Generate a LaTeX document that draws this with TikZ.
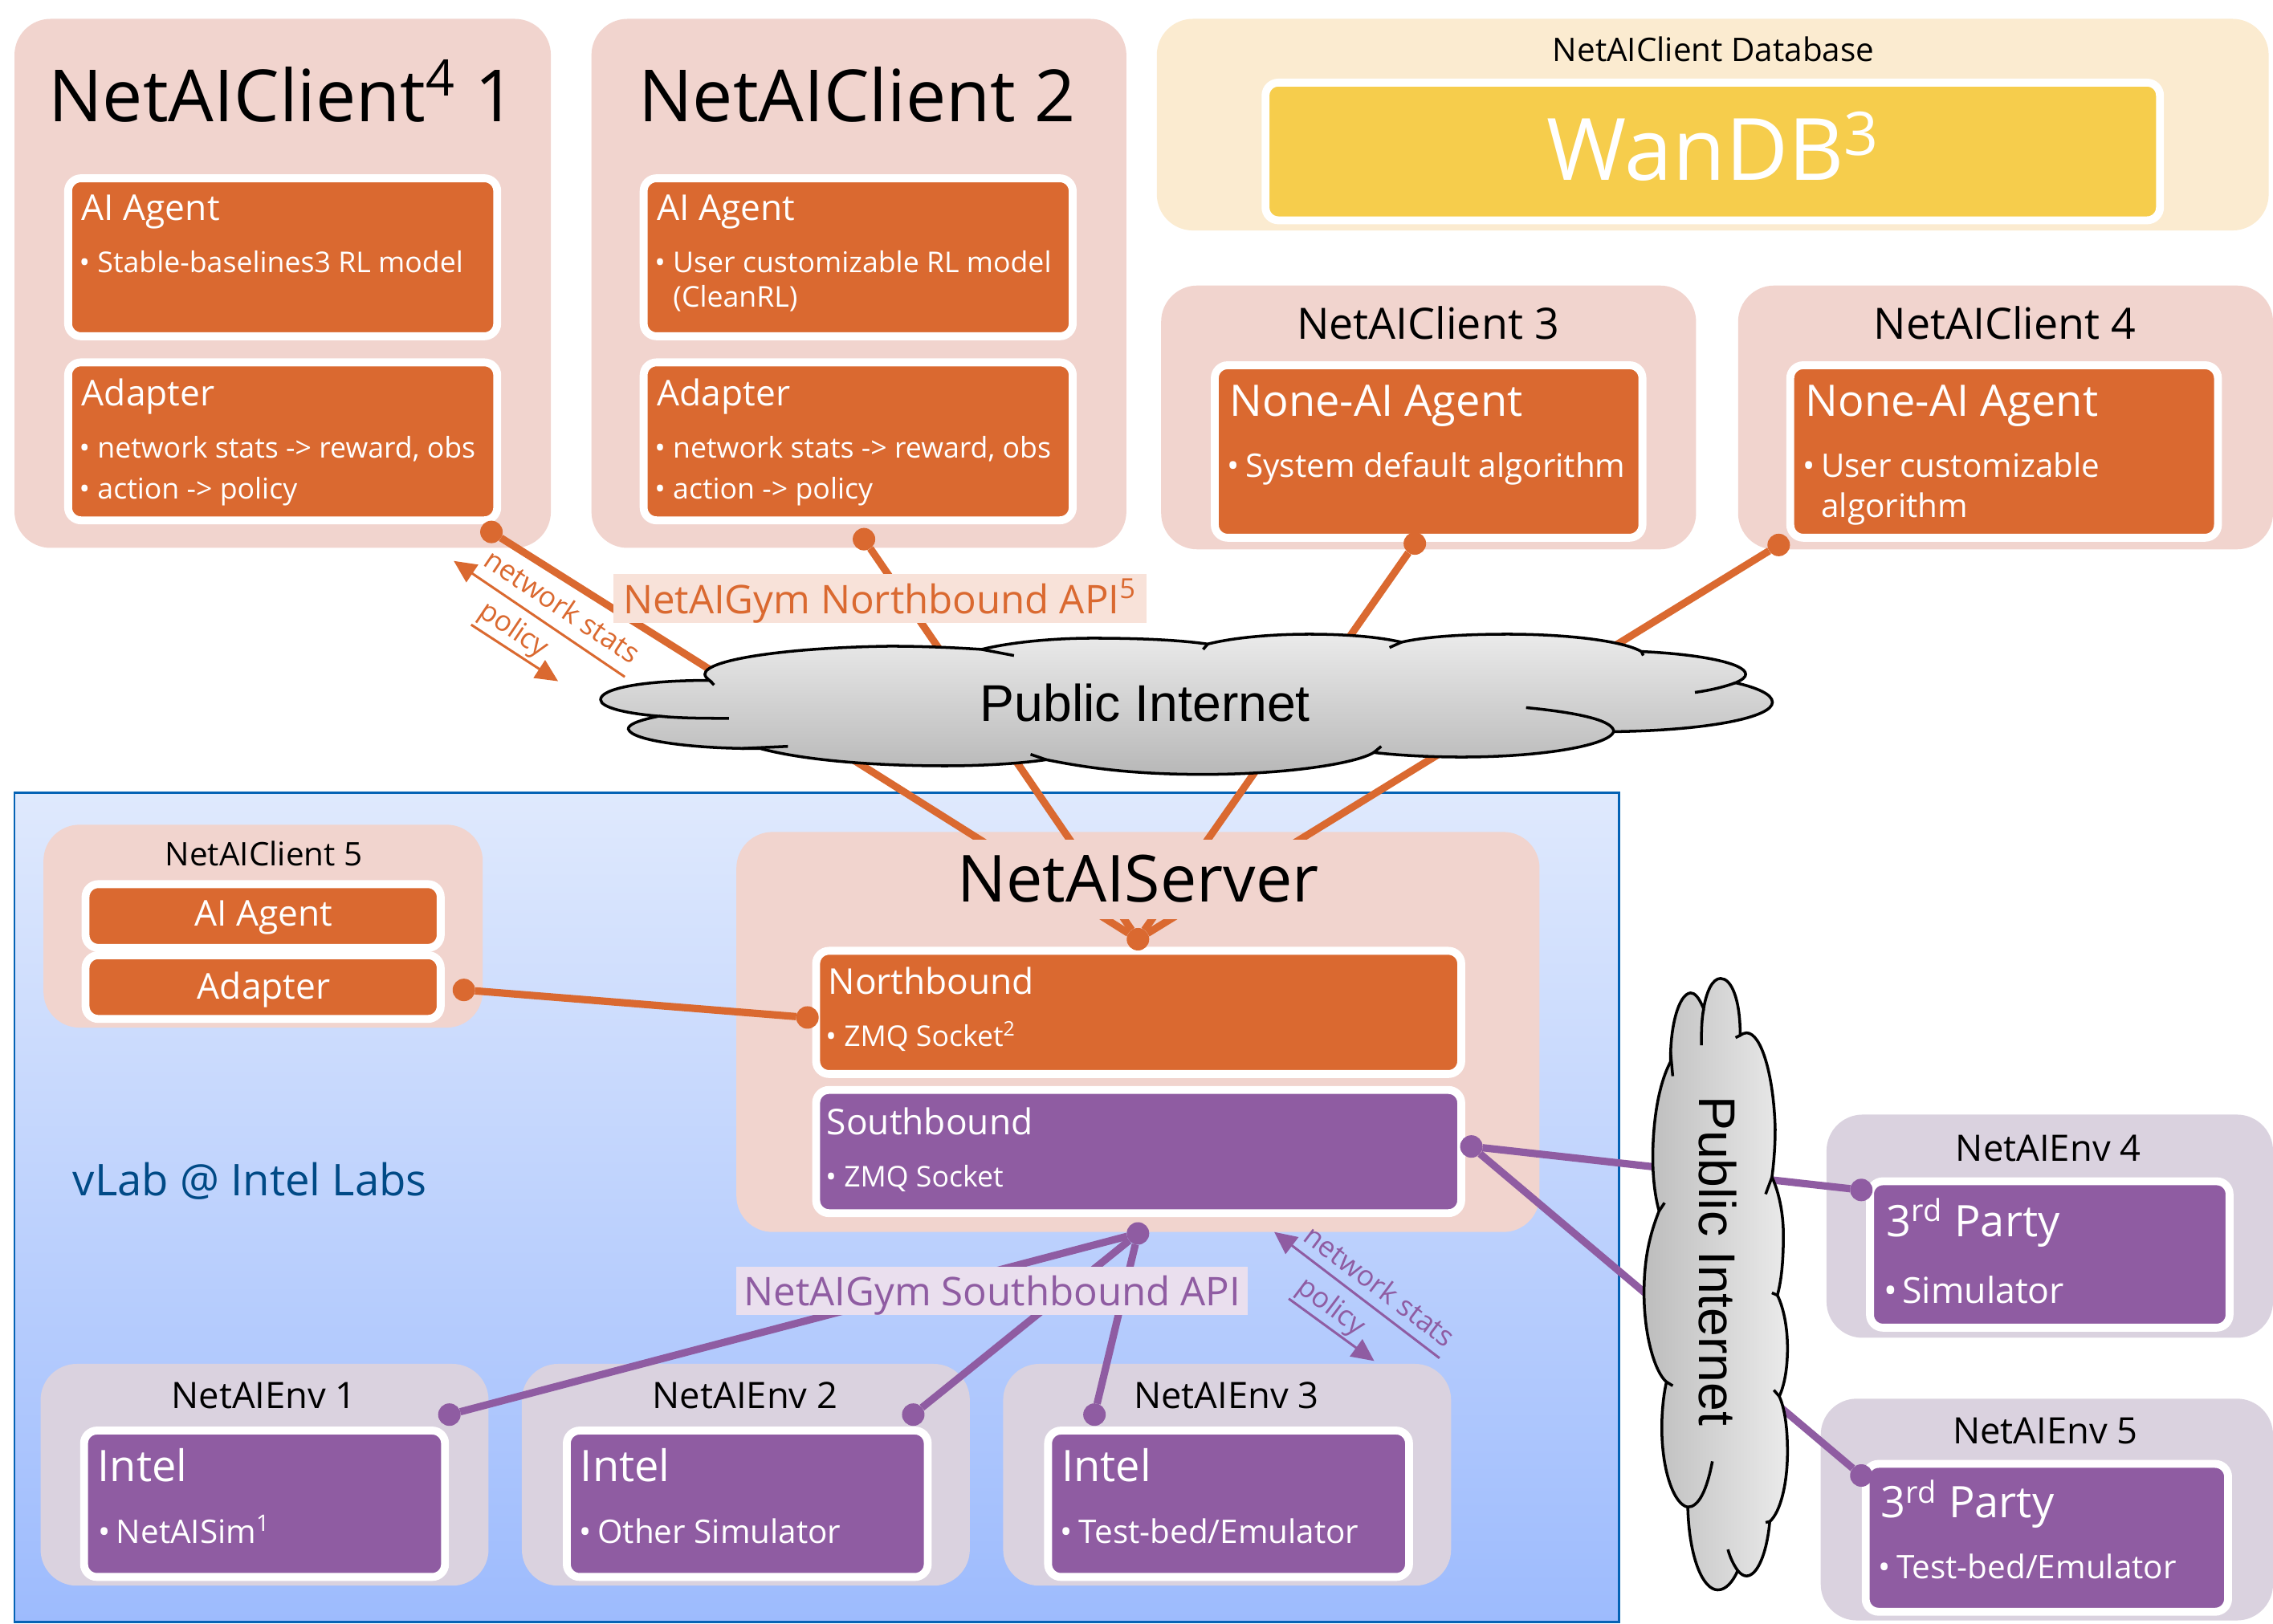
\documentclass[tikz,border=0pt]{standalone}
\usepackage{fontspec}
\setmainfont{Open Sans}
\newfontfamily\cloudfont{Liberation Sans}
\usetikzlibrary{fit, arrows.meta}
\definecolor{orangebox}{HTML}{DA6930}
\definecolor{purplebox}{HTML}{8F5CA2}
\definecolor{panelpink}{HTML}{F1D4CE}
\definecolor{panellilac}{HTML}{DAD2DF}
\definecolor{panelcream}{HTML}{FBEBD0}
\definecolor{yellowbox}{HTML}{F6CD4C}
\definecolor{labtop}{HTML}{DFE9FD}
\definecolor{labbottom}{HTML}{9DBBFD}
\definecolor{labline}{HTML}{0563B5}
\definecolor{labtext}{HTML}{004A86}
\definecolor{apiorange}{HTML}{F8E2D9}
\definecolor{apipurple}{HTML}{EADFEE}
\newcommand{\bul}{\makebox[6.1pt][l]{\hspace{-.4pt}\textbullet}}
\newcommand{\cloudoutline}{(335,688) .. controls (260,688) and (217,720) .. (217,760) .. controls (217,790) and (245,812) .. (280,822)
  .. controls (255,840) and (247,855) .. (247,870) .. controls (250,915) and (320,945) .. (390,943)
  .. controls (440,990) and (520,1008) .. (590,1008) .. controls (630,1008) and (670,1000) .. (700,985)
  .. controls (750,1020) and (800,1040) .. (870,1040) .. controls (960,1040) and (1035,1000) .. (1055,958)
  .. controls (1085,970) and (1120,975) .. (1150,975) .. controls (1240,975) and (1310,930) .. (1315,880)
  .. controls (1420,875) and (1487,825) .. (1487,770) .. controls (1487,740) and (1470,715) .. (1447,697)
  .. controls (1455,685) and (1458,675) .. (1458,665) .. controls (1458,625) and (1410,590) .. (1345,580)
  .. controls (1325,540) and (1265,515) .. (1200,515) .. controls (1150,515) and (1110,525) .. (1085,545)
  .. controls (1060,525) and (1025,515) .. (985,515) .. controls (940,515) and (900,530) .. (875,552)
  .. controls (840,535) and (795,530) .. (750,530) .. controls (700,530) and (655,550) .. (630,572)
  .. controls (600,565) and (565,560) .. (530,560) .. controls (420,565) and (330,610) .. (330,665)
  .. controls (330,672) and (332,680) .. (335,688) -- cycle}
\newcommand{\cloudticks}{(335,688) -- (340,705)
  (280,822) .. controls (305,830) and (330,830) .. (356,830)
  (370,943) -- (420,935)
  (700,985) -- (683,965)
  (1055,958) -- (1063,935)
  (1315,880) .. controls (1315,840) and (1280,810) .. (1220,790)
  (1447,697) .. controls (1435,712) and (1420,725) .. (1403,733)
  (1345,580) -- (1347,595)
  (1085,545) -- (1072,565)
  (875,552) -- (870,572)
  (630,572) -- (665,595)}
\tikzset{
  panel/.style={fill=#1, rounded corners=.45cm, inner sep=0pt, outer sep=0pt},
  innerbox/.style={fill=#1, draw=white, line width=2.8pt, rounded corners=.16cm, inner sep=0pt, outer sep=0pt},
  bigtitle/.style={font=\fontsize{25.5}{30}\selectfont, inner sep=0pt},
  midtitle/.style={font=\fontsize{15.3}{19}\selectfont, inner sep=0pt},
  smalltitle/.style={font=\fontsize{11.5}{14}\selectfont, inner sep=0pt},
  envtitle/.style={font=\fontsize{12.9}{16}\selectfont, inner sep=0pt},
  boxhead/.style={text=white, font=\fontsize{12.6}{15}\selectfont, anchor=base west, inner sep=0pt},
  boxheadbig/.style={text=white, font=\fontsize{15.4}{18}\selectfont, anchor=base west, inner sep=0pt},
  boxitem/.style={text=white, font=\fontsize{10.15}{12}\selectfont, anchor=base west, inner sep=0pt},
  boxitemmid/.style={text=white, font=\fontsize{11.5}{14}\selectfont, anchor=base west, inner sep=0pt},
  boxitembig/.style={text=white, font=\fontsize{12.7}{15}\selectfont, anchor=base west, inner sep=0pt},
  flowtext/.style={font=\fontsize{10.1}{12}\selectfont, inner sep=0pt},
  odot/.style={circle, fill=orangebox, minimum size=.28cm, inner sep=0pt, outer sep=0pt},
  pdot/.style={circle, fill=purplebox, minimum size=.28cm, inner sep=0pt, outer sep=0pt},
  oline/.style={draw=orangebox, line width=2.6pt},
  pline/.style={draw=purplebox, line width=2.6pt},
  flowtip/.style={-{Triangle[length=.28cm, width=.26cm]}, line width=.85pt},
  apilabel/.style={font=\fontsize{14}{17}\selectfont, inner sep=0pt, text height=10.6pt, text depth=0pt},
}
\begin{document}
\begin{tikzpicture}[x=.018055cm, y=-.018055cm]
\useasboundingbox (0,0) rectangle (1568,1120);
% lab background
\node[draw=labline, line width=.8pt, top color=labtop, bottom color=labbottom, inner sep=0pt, outer sep=0pt, fit={(10,547)(1117,1119)}] (lab) {};
% panels
\node[panel=panelpink, fit={(10,13)(380,378)}] (client1) {};
\node[panel=panelpink, fit={(408,13)(777,378)}] (client2) {};
\node[panel=panelcream, fit={(798,13)(1565,159)}] (database) {};
\node[panel=panelpink, fit={(801,197)(1170,379)}] (client3) {};
\node[panel=panelpink, fit={(1199,197)(1568,379)}] (client4) {};
\node[panel=panelpink, fit={(30,569)(333,709)}] (client5) {};
\node[panel=panelpink, fit={(508,574)(1062,850)}] (server) {};
\node[panel=panellilac, fit={(28,941)(337,1094)}] (env1) {};
\node[panel=panellilac, fit={(360,941)(669,1094)}] (env2) {};
\node[panel=panellilac, fit={(692,941)(1001,1094)}] (env3) {};
\node[panel=panellilac, fit={(1260,769)(1568,923)}] (env4) {};
\node[panel=panellilac, fit={(1256,965)(1568,1118)}] (env5) {};
% inner boxes
\node[innerbox=yellowbox, fit={(873,57)(1490,152)}] (wandb) {};
\node[innerbox=orangebox, fit={(47,123)(343,232)}] (agent1) {};
\node[innerbox=orangebox, fit={(47,250)(343,359)}] (adapter1) {};
\node[innerbox=orangebox, fit={(444,123)(740,232)}] (agent2) {};
\node[innerbox=orangebox, fit={(444,250)(740,359)}] (adapter2) {};
\node[innerbox=orangebox, fit={(838,252)(1133,371)}] (agent3) {};
\node[innerbox=orangebox, fit={(1235,252)(1530,371)}] (agent4) {};
\node[innerbox=orangebox, fit={(59,610)(304,654)}] (agent5) {};
\node[innerbox=orangebox, fit={(59,659)(304,703)}] (adapter5) {};
\node[innerbox=orangebox, fit={(563,656)(1008,741)}] (north) {};
\node[innerbox=purplebox, fit={(563,752)(1008,837)}] (south) {};
\node[innerbox=purplebox, fit={(58,987)(307,1088)}] (intel1) {};
\node[innerbox=purplebox, fit={(391,987)(640,1088)}] (intel2) {};
\node[innerbox=purplebox, fit={(723,987)(972,1088)}] (intel3) {};
\node[innerbox=purplebox, fit={(1290,815)(1538,916)}] (party4) {};
\node[innerbox=purplebox, fit={(1287,1010)(1537,1112)}] (party5) {};
% dots
\node[odot] (dotc1) at (339,367) {};
\node[odot] (dotc2) at (596,372) {};
\node[odot] (dotc3) at (976,375) {};
\node[odot] (dotc4) at (1227,376) {};
\node[odot] (dotnorth) at (785,648) {};
\node[odot] (dotc5) at (320,683) {};
\node[odot] (dotnorthin) at (557,702) {};
\node[pdot] (dotsouth) at (785,851) {};
\node[pdot] (dotsouthout) at (1015,791) {};
\node[pdot] (dote1) at (310,976) {};
\node[pdot] (dote2) at (630,976) {};
\node[pdot] (dote3) at (755,976) {};
\node[pdot] (dote4) at (1284,821) {};
\node[pdot] (dote5) at (1284,1018) {};
% connectors
\draw[oline] (dotc1) -- (dotnorth);
\draw[oline] (dotc2) -- (dotnorth);
\draw[oline] (dotc3) -- (dotnorth);
\draw[oline] (dotc4) -- (dotnorth);
\draw[oline] (dotc5) -- (dotnorthin);
\draw[pline] (dote1) -- (dotsouth);
\draw[pline] (dote2) -- (dotsouth);
\draw[pline] (dote3) -- (dotsouth);
\draw[pline] (dotsouthout) -- (dote4);
\draw[pline] (dotsouthout) -- (dote5);
% api labels
\node[apilabel, fill=apiorange, text=orangebox, minimum width=6.64cm, minimum height=.61cm] (apinorth) at (607,413) {NetAIGym Northbound API\textsuperscript{5}};
\node[apilabel, fill=apipurple, text=purplebox, minimum width=6.37cm, minimum height=.6cm] (apisouth) at (684.5,890.5) {NetAIGym Southbound API};
% flow arrows
\coordinate (ostatsa) at (431,467);
\coordinate (ostatsb) at (313,387);
\coordinate (opolicya) at (325,431);
\coordinate (opolicyb) at (385,470);
\coordinate (pstatsa) at (993,937);
\coordinate (pstatsb) at (879,850);
\coordinate (ppolicya) at (889,896);
\coordinate (ppolicyb) at (948,939);
\draw[flowtip, orangebox] (ostatsa) -- (ostatsb);
\draw[flowtip, orangebox] (opolicya) -- (opolicyb);
\draw[flowtip, purplebox] (pstatsa) -- (pstatsb);
\draw[flowtip, purplebox] (ppolicya) -- (ppolicyb);
\node[flowtext, rotate=-34, text=orangebox] (ostats) at (388,418) {network stats};
\node[flowtext, rotate=-34, text=orangebox] (opolicy) at (354,435) {policy};
\node[flowtext, rotate=-37, text=purplebox] (pstats) at (952,887) {network stats};
\node[flowtext, rotate=-37, text=purplebox] (ppolicy) at (918,902) {policy};
% clouds
\begin{scope}[shift={(818.5,486)}, x={(.011483cm,0cm)}, y={(0cm,-.003333cm)}, shift={(-852,-778)}]
  \fill[top color=black!8, bottom color=black!28] \cloudoutline;
  \draw[line width=1pt] \cloudoutline;
  \draw[line width=1pt] \cloudticks;
\end{scope}
\begin{scope}[shift={(1183.5,886)}, x={(0cm,-.005994cm)}, y={(-.003405cm,0cm)}, shift={(-852,-778)}]
  \fill[left color=black!26, right color=black!8] \cloudoutline;
  \draw[line width=1pt] \cloudoutline;
  \draw[line width=1pt] \cloudticks;
\end{scope}
\node[font=\cloudfont\fontsize{18.3}{21}\selectfont, inner sep=0pt] (cloudnorth) at (790,485) {Public Internet};
\node[font=\cloudfont\fontsize{18.3}{21}\selectfont, inner sep=0pt, rotate=-90] (cloudsouth) at (1185,870) {Public Internet};
% titles
\node[bigtitle, anchor=base west] (title1) at (33,84) {NetAIClient\textsuperscript{4} 1};
\node[bigtitle, anchor=base west] (title2) at (440,84) {NetAIClient 2};
\node[smalltitle] (titledb) at (1182,34) {NetAIClient Database};
\node[font=\fontsize{30.5}{36}\selectfont, text=white, inner sep=0pt] (titlewandb) at (1182,101) {WanDB\textsuperscript{3}};
\node[midtitle] (title3) at (985,223) {NetAIClient 3};
\node[midtitle] (title4) at (1383,223) {NetAIClient 4};
\node[smalltitle] (title5) at (182,589) {NetAIClient 5};
\node[fill=panelpink, font=\fontsize{23}{27}\selectfont, inner sep=0pt, minimum width=8cm, minimum height=.99cm] (titleserver) at (785,606.5) {NetAIServer};
\node[midtitle, anchor=base west, text=labtext, font=\fontsize{15.5}{19}\selectfont] (titlelab) at (50,825) {vLab @ Intel Labs};
\node[envtitle] (titlee1) at (182,963) {NetAIEnv 1};
\node[envtitle] (titlee2) at (514,963) {NetAIEnv 2};
\node[envtitle] (titlee3) at (846,963) {NetAIEnv 3};
\node[envtitle] (titlee4) at (1413,792) {NetAIEnv 4};
\node[envtitle] (titlee5) at (1411,987) {NetAIEnv 5};
% box texts
\node[boxhead] (head1a) at (56,152) {AI Agent};
\node[boxitem] (item1a) at (55,188) {\bul Stable-baselines3 RL model};
\node[boxhead] (head1b) at (56,280) {Adapter};
\node[boxitem] (item1b) at (55,316) {\bul network stats -> reward, obs};
\node[boxitem] (item1c) at (55,344) {\bul action -> policy};
\node[boxhead] (head2a) at (453,152) {AI Agent};
\node[boxitem] (item2a) at (452,188) {\bul User customizable RL model};
\node[boxitem] (item2b) at (464,212) {(CleanRL)};
\node[boxhead] (head2b) at (453,280) {Adapter};
\node[boxitem] (item2c) at (452,316) {\bul network stats -> reward, obs};
\node[boxitem] (item2d) at (452,344) {\bul action -> policy};
\node[boxheadbig] (head3) at (848,287) {None-AI Agent};
\node[boxitemmid] (item3) at (847,329) {\bul System default algorithm};
\node[boxheadbig] (head4) at (1245,287) {None-AI Agent};
\node[boxitemmid] (item4a) at (1244,329) {\bul User customizable};
\node[boxitemmid] (item4b) at (1256,357) {algorithm};
\node[boxhead, anchor=center] (head5a) at (182,633) {AI Agent};
\node[boxhead, anchor=center] (head5b) at (182,683) {Adapter};
\node[boxhead] (headnorth) at (571,686) {Northbound};
\node[boxitem] (itemnorth) at (570,722) {\bul ZMQ Socket\textsuperscript{2}};
\node[boxhead] (headsouth) at (570,783) {Southbound};
\node[boxitem] (itemsouth) at (570,819) {\bul ZMQ Socket};
\node[boxheadbig] (heade1) at (67,1022) {Intel};
\node[boxitemmid] (iteme1) at (68,1065) {\bul NetAISim\textsuperscript{1}};
\node[boxheadbig] (heade2) at (400,1022) {Intel};
\node[boxitemmid] (iteme2) at (400,1065) {\bul Other Simulator};
\node[boxheadbig] (heade3) at (732,1022) {Intel};
\node[boxitemmid] (iteme3) at (732,1065) {\bul Test-bed/Emulator};
\node[boxheadbig] (heade4) at (1301,853) {3\textsuperscript{rd} Party};
\node[boxitembig] (iteme4) at (1300,899) {\bul Simulator};
\node[boxheadbig] (heade5) at (1297,1047) {3\textsuperscript{rd} Party};
\node[boxitemmid] (iteme5) at (1296,1089) {\bul Test-bed/Emulator};
\end{tikzpicture}
\end{document}
